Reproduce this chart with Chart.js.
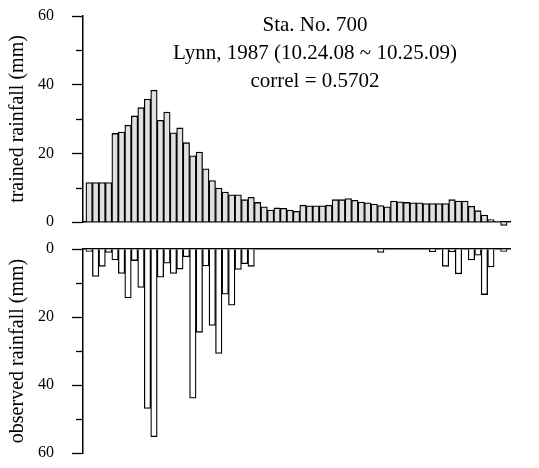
<!DOCTYPE html>
<html>
<head>
<meta charset="utf-8">
<script src="https://cdn.jsdelivr.net/npm/chart.js@4/dist/chart.umd.min.js"></script>
<style>
  body { margin: 0; background: #fff; }
  #wrap { position: relative; width: 539px; height: 468px; }
  #wrap canvas { position: absolute; left: 0; }
  #top-chart { top: 0; }
  #bottom-chart { top: 236px; }
</style>
</head>
<body>
<div id="wrap">
  <canvas id="top-chart" width="539" height="236"></canvas>
  <canvas id="bottom-chart" width="539" height="232"></canvas>
</div>
<script>
// Trained (model) rainfall, mm per step
const trained = [11.5, 11.5, 11.5, 11.5, 25.8, 26.2, 28.2, 30.9, 33.3, 35.8,
  38.4, 29.6, 32.0, 26.0, 27.4, 23.1, 19.3, 20.4, 15.5, 12.1,
  9.9, 8.7, 7.9, 7.9, 6.5, 7.2, 5.7, 4.4, 3.5, 4.1,
  4.0, 3.5, 3.1, 4.9, 4.7, 4.7, 4.7, 4.9, 6.5, 6.5,
  6.8, 6.3, 5.8, 5.6, 5.2, 4.8, 4.4, 6.1, 5.9, 5.7,
  5.6, 5.6, 5.4, 5.4, 5.4, 5.4, 6.5, 6.1, 6.1, 4.6,
  3.3, 2.0, 0.7, 0.3, -1.0];

// Observed rainfall, mm per step (drawn downward)
const observed = [0.7, 8.1, 5.1, 1.0, 3.2, 7.2, 14.4, 3.4, 11.3, 46.9,
  55.2, 8.3, 4.2, 7.2, 5.9, 2.3, 43.9, 24.5, 5.0, 22.5,
  30.7, 13.3, 16.5, 6.0, 4.3, 5.1, 0, 0, 0, 0,
  0, 0, 0, 0, 0, 0, 0, 0, 0, 0,
  0, 0, 0, 0, 0, 1.0, 0, 0, 0, 0,
  0, 0, 0, 0.8, 0, 5.1, 0.8, 7.3, 0, 3.2,
  1.8, 13.4, 5.3, 0, 0.7];

const steps = trained.map((_, i) => i + 1);
const majorTicks = [0, 20, 40, 60];
const minorTicks = [10, 30, 50];
const titleLines = ['Sta. No. 700', 'Lynn, 1987 (10.24.08 ~ 10.25.09)', 'correl = 0.5702'];

const serif = '"Liberation Serif", "Times New Roman", serif';

// Station / correlation text inside the top panel
const titleText = {
  id: 'titleText',
  afterDraw(chart) {
    const ctx = chart.ctx;
    ctx.save();
    ctx.fillStyle = '#000';
    ctx.font = '21px ' + serif;
    ctx.textAlign = 'center';
    ctx.textBaseline = 'alphabetic';
    const baselines = [31, 59, 87];
    titleLines.forEach((line, i) => ctx.fillText(line, 315, baselines[i]));
    ctx.restore();
  }
};

// Short minor tick marks next to the y axis
const minorTickMarks = {
  id: 'minorTickMarks',
  afterDraw(chart) {
    const ctx = chart.ctx;
    const y = chart.scales.y;
    ctx.save();
    ctx.strokeStyle = '#000';
    ctx.lineWidth = 1.3;
    minorTicks.forEach(v => {
      const py = Math.round(y.getPixelForValue(v)) + 0.5;
      ctx.beginPath();
      ctx.moveTo(y.right - 7, py);
      ctx.lineTo(y.right, py);
      ctx.stroke();
    });
    ctx.restore();
  }
};

function yScale(title, reverse) {
  return {
    min: 0,
    max: 60,
    reverse: reverse,
    afterFit: scale => {
      scale.width = 83;
      scale.paddingTop = 0;
      scale.paddingBottom = 0;
    },
    border: { display: true, color: '#000', width: 1.5 },
    grid: {
      drawOnChartArea: false,
      drawTicks: true,
      tickLength: 11,
      tickWidth: 1.3,
      tickColor: ctx => majorTicks.includes(ctx.tick && ctx.tick.value) ? '#000' : 'rgba(0,0,0,0)'
    },
    ticks: {
      stepSize: 10,
      autoSkip: false,
      padding: 18,
      color: '#000',
      font: { family: serif, size: 16 },
      callback: v => majorTicks.includes(v) ? String(v) : ''
    },
    title: {
      display: true,
      text: title,
      color: '#000',
      font: { family: serif, size: 20 },
      padding: { top: 6, bottom: 0 }
    }
  };
}

function xScale(position) {
  return {
    type: 'linear',
    position: position,
    offset: false,
    min: 0.05,
    max: 65.95,
    afterFit: scale => { scale.height = 0; },
    ticks: { display: false },
    grid: { display: false },
    border: { display: true, color: '#000', width: 1.5 }
  };
}

const common = {
  responsive: false,
  animation: false,
  plugins: { legend: { display: false }, tooltip: { enabled: false } }
};

new Chart(document.getElementById('top-chart'), {
  type: 'bar',
  data: {
    datasets: [{
      data: steps.map((s, i) => ({ x: s, y: trained[i] })),
      backgroundColor: '#e0e0e0',
      borderColor: '#000',
      borderWidth: 1.3,
      barPercentage: 1,
      categoryPercentage: 1,
      clip: false
    }]
  },
  options: Object.assign({}, common, {
    layout: { padding: { top: 16, right: 29, bottom: 14, left: 0 } },
    scales: {
      x: xScale('bottom'),
      y: yScale('trained rainfall (mm)', false)
    }
  }),
  plugins: [titleText, minorTickMarks]
});

new Chart(document.getElementById('bottom-chart'), {
  type: 'bar',
  data: {
    datasets: [{
      data: steps.map((s, i) => ({ x: s, y: observed[i] })),
      backgroundColor: '#fff',
      borderColor: '#000',
      borderWidth: 1.3,
      barPercentage: 1,
      categoryPercentage: 1
    }]
  },
  options: Object.assign({}, common, {
    layout: { padding: { top: 13, right: 29, bottom: 15, left: 0 } },
    scales: {
      x: xScale('top'),
      y: yScale('observed rainfall (mm)', true)
    }
  }),
  plugins: [minorTickMarks]
});
</script>
</body>
</html>
